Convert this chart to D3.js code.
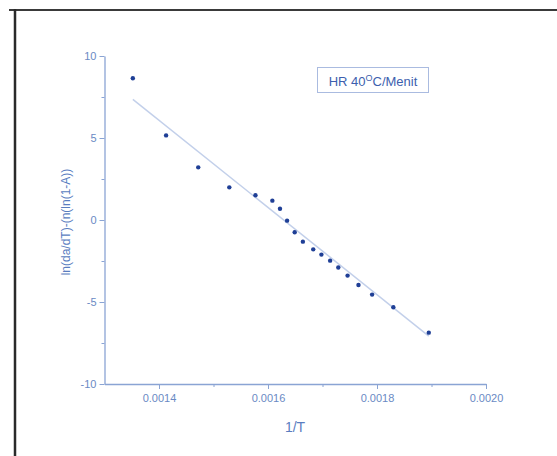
<!DOCTYPE html>
<html>
<meta charset="utf-8">
<style>
    body { margin: 0; background: #fff; }
    svg { display: block; font-family: "Liberation Sans", Arial, sans-serif; }
    .tick text { fill: #6a8ac4; font-size: 11px; }
    .domain, .tick line { stroke: #8aa4d4; }
</style>
<body>
<script src="https://cdn.jsdelivr.net/npm/d3@7"></script>
<script>
// 1/T values and the plotted quantity
var invT = [0.001352, 0.001413, 0.001472, 0.001529, 0.001577, 0.001608, 0.001622, 0.001635,
            0.001649, 0.001664, 0.001683, 0.001698, 0.001714, 0.001729, 0.001746, 0.001766,
            0.001791, 0.001830, 0.001895];
var lnY = [8.64, 5.16, 3.21, 1.99, 1.51, 1.18, 0.69, -0.04,
           -0.75, -1.32, -1.79, -2.11, -2.48, -2.90, -3.39, -3.96,
           -4.55, -5.32, -6.87];
// linear fit end points
var fitX = [0.001352, 0.001895];
var fitY = [7.36, -7.08];
var xTicks = [0.0014, 0.0016, 0.0018, 0.0020];
var xMinor = [0.0015, 0.0017, 0.0019];
var yTicks = [-10, -5, 0, 5, 10];
var yMinor = [-7.5, -2.5, 2.5, 7.5];

var W = 557, H = 456;
var svg = d3.select("body").append("svg").attr("width", W).attr("height", H);

// page frame
svg.append("line").attr("x1", 9).attr("x2", W).attr("y1", 10).attr("y2", 10)
    .attr("stroke", "#3a3a3a").attr("stroke-width", 2);
svg.append("line").attr("x1", 15).attr("x2", 15).attr("y1", 9).attr("y2", H)
    .attr("stroke", "#2a2a2a").attr("stroke-width", 2.5);

var x = d3.scaleLinear().domain([0.0013, 0.0020]).range([104.5, 486]);
var y = d3.scaleLinear().domain([-10, 10]).range([384, 56]);

// minor ticks
svg.append("g").attr("transform", "translate(0,384)")
    .call(d3.axisBottom(x).tickValues(xMinor).tickSize(3).tickFormat(""))
    .call(g => g.select(".domain").remove());
svg.append("g").attr("transform", "translate(104.5,0)")
    .call(d3.axisLeft(y).tickValues(yMinor).tickSize(3).tickFormat(""))
    .call(g => g.select(".domain").remove());

svg.append("g").attr("transform", "translate(0,384)")
    .call(d3.axisBottom(x).tickValues(xTicks).tickSize(5).tickSizeOuter(0).tickPadding(5)
        .tickFormat(d3.format(".4f")));
svg.append("g").attr("transform", "translate(104.5,0)")
    .call(d3.axisLeft(y).tickValues(yTicks).tickSize(5).tickSizeOuter(0).tickPadding(3)
        .tickFormat(d => String(d)));

svg.selectAll(".domain").attr("stroke-width", 1.3);

// fit line
svg.append("line")
    .attr("x1", x(fitX[0])).attr("y1", y(fitY[0]))
    .attr("x2", x(fitX[1])).attr("y2", y(fitY[1]))
    .attr("stroke", "#c3d0ea").attr("stroke-width", 1.5);

// points
svg.selectAll("circle.pt").data(invT).enter().append("circle")
    .attr("class", "pt")
    .attr("cx", d => x(d))
    .attr("cy", (d, i) => y(lnY[i]))
    .attr("r", 2.2)
    .attr("fill", "#1f3f96");

// axis titles
svg.append("text").attr("x", 295).attr("y", 432).attr("text-anchor", "middle")
    .attr("fill", "#5a7dbf").attr("font-size", 14).text("1/T");
svg.append("text").attr("transform", "translate(70,222) rotate(-90)")
    .attr("text-anchor", "middle").attr("fill", "#5a7dbf").attr("font-size", 12)
    .text("ln(da/dT)-(n(ln(1-A))");

// legend box
svg.append("rect").attr("x", 317.5).attr("y", 67.5).attr("width", 111).attr("height", 25)
    .attr("fill", "none").attr("stroke", "#aabbe0").attr("stroke-width", 1);
var lg = svg.append("text").attr("x", 373).attr("y", 86).attr("text-anchor", "middle")
    .attr("fill", "#3d5fae").attr("font-size", 13);
lg.append("tspan").text("HR 40");
lg.append("tspan").attr("dy", -5).attr("font-size", 9).text("O");
lg.append("tspan").attr("dy", 5).text("C/Menit");
</script>
</body>
</html>
